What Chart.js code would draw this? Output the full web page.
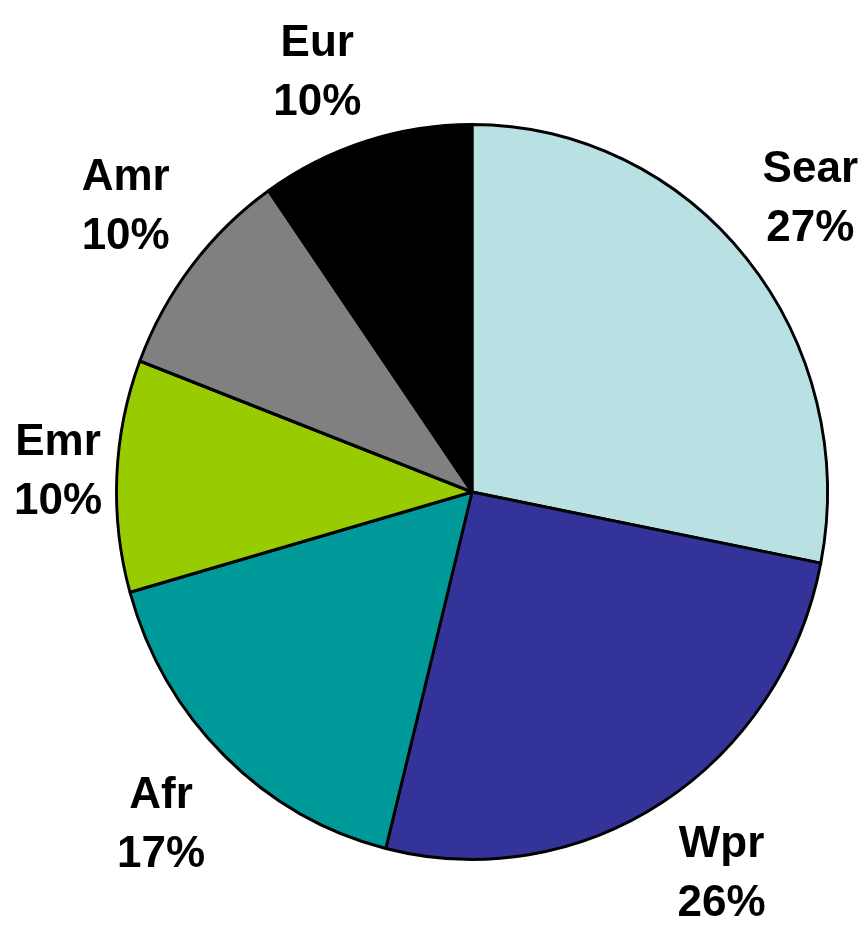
<!DOCTYPE html>
<html>
<head>
<meta charset="utf-8">
<script src="https://cdn.jsdelivr.net/npm/chart.js@4"></script>
<style>
  html, body { margin: 0; padding: 0; background: #fff; }
  #wrap { width: 866px; height: 931px; }
</style>
</head>
<body>
<div id="wrap"><canvas id="pie"></canvas></div>
<script>
// Regions, clockwise from 12 o'clock
const regions = ['Sear', 'Wpr', 'Afr', 'Emr', 'Amr', 'Eur'];
const shares = [28.1, 25.8, 16.7, 10.2, 9.5, 9.7];
const shareLabels = ['27%', '26%', '17%', '10%', '10%', '10%'];
const colours = ['#b9e0e3', '#333399', '#009999', '#99cc00', '#808080', '#000000'];

// the original pie is a little narrower than it is tall
const squeezeX = 356 / 368;

const ovalPie = {
    id: 'ovalPie',
    beforeDatasetsDraw(chart) {
        const arc = chart.getDatasetMeta(0).data[0];
        const ctx = chart.ctx;
        ctx.save();
        ctx.translate(arc.x, arc.y);
        ctx.scale(squeezeX, 1);
        ctx.translate(-arc.x, -arc.y);
    },
    afterDatasetsDraw(chart) {
        const ctx = chart.ctx;
        ctx.restore();

        // "Region / xx%" outside each slice
        const meta = chart.getDatasetMeta(0);
        const lineGap = 59;
        const capH = 31.5;
        const gap = 28;
        ctx.save();
        ctx.font = 'bold 44px "Liberation Sans", Arial, sans-serif';
        ctx.fillStyle = '#000';
        ctx.textAlign = 'center';
        ctx.textBaseline = 'alphabetic';
        meta.data.forEach((arc, i) => {
            const { x, y, startAngle, endAngle, outerRadius } = arc.getProps(['x', 'y', 'startAngle', 'endAngle', 'outerRadius'], true);
            const mid = (startAngle + endAngle) / 2;
            const dx = Math.cos(mid), dy = Math.sin(mid);
            const ex = x + outerRadius * squeezeX * dx;
            const ey = y + outerRadius * dy;
            const hw = Math.max(ctx.measureText(regions[i]).width, ctx.measureText(shareLabels[i]).width) / 2;
            const hh = (lineGap + capH) / 2;
            const clamp = v => Math.max(-1, Math.min(1, v * 3));
            let cx = ex + gap * dx + hw * clamp(dx);
            let cy = ey + gap * dy + hh * clamp(dy);
            cx = Math.min(Math.max(cx, hw + 14), chart.width - hw - 8);
            cy = Math.min(Math.max(cy, hh + 10), chart.height - hh - 4);
            ctx.fillText(regions[i], cx, cy - lineGap / 2 + capH / 2);
            ctx.fillText(shareLabels[i], cx, cy + lineGap / 2 + capH / 2);
        });
        ctx.restore();
    }
};

const chart = new Chart(document.getElementById('pie').getContext('2d'), {
    type: 'pie',
    data: {
        labels: regions,
        datasets: [{
            data: shares,
            backgroundColor: colours,
            borderColor: '#000',
            borderWidth: 3,
            hoverOffset: 0
        }]
    },
    options: {
        responsive: true,
        maintainAspectRatio: false,
        animation: false,
        layout: {
            padding: { left: 103, right: 25, top: 123, bottom: 70 }
        },
        plugins: {
            legend: { display: false },
            tooltip: { enabled: false }
        }
    },
    plugins: [ovalPie]
});
</script>
</body>
</html>
